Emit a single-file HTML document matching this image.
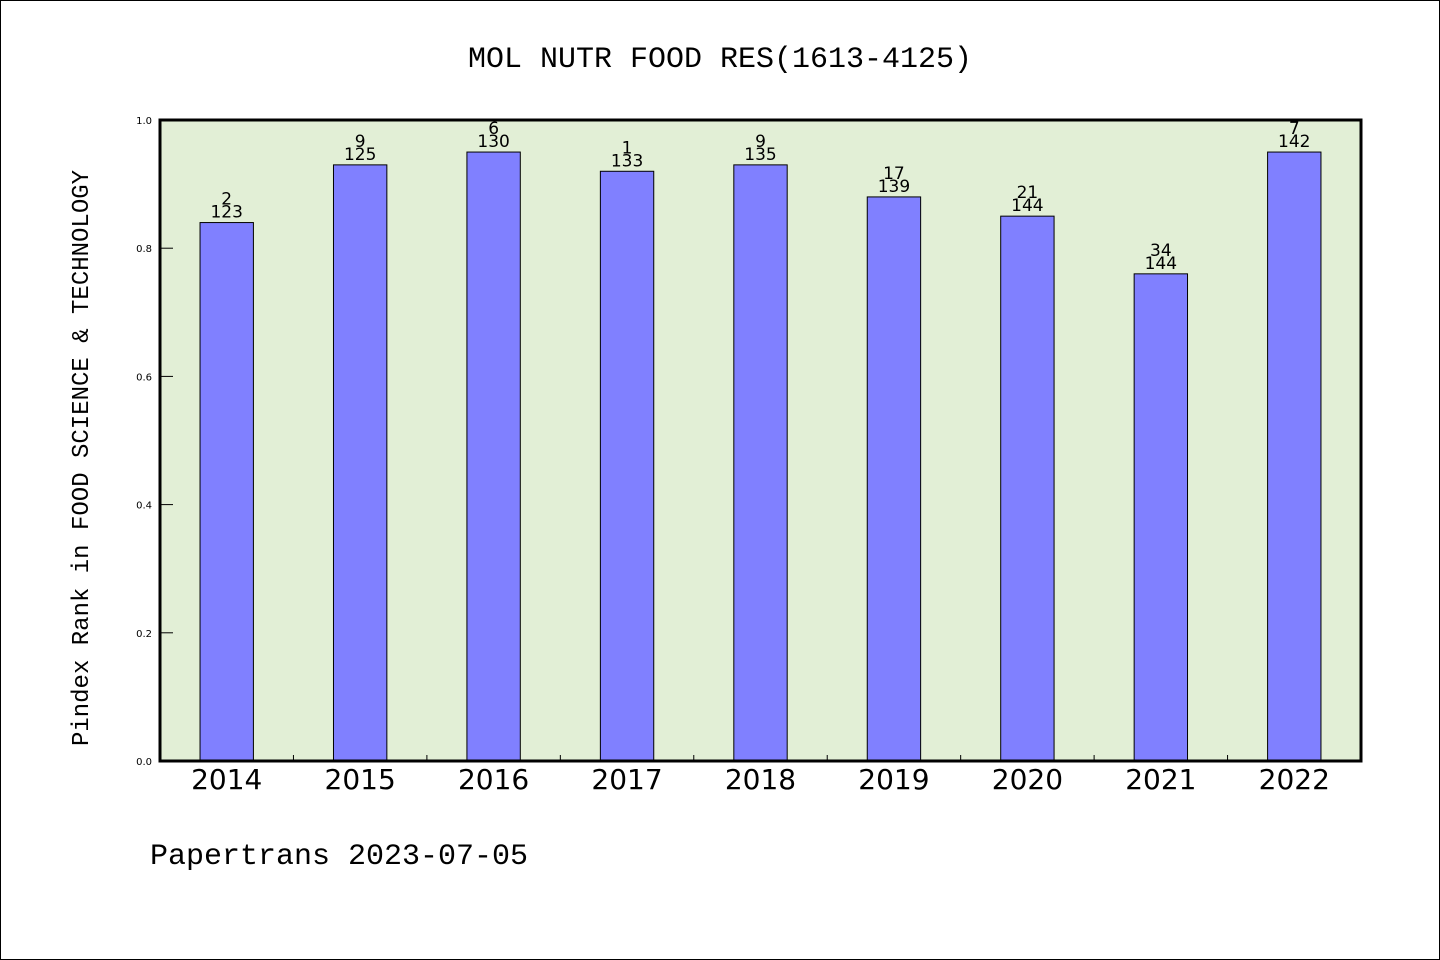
<!DOCTYPE html>
<html><head><meta charset="utf-8"><style>
html,body{margin:0;padding:0;background:#fff}
svg{display:block}
</style></head><body>
<svg width="1440" height="960" xmlns="http://www.w3.org/2000/svg">
<rect x="0.5" y="0.5" width="1439" height="959" fill="#fff" stroke="#000"/>
<text x="720" y="67" text-anchor="middle" font-family="Liberation Mono, monospace" font-size="30">MOL NUTR FOOD RES(1613-4125)</text>
<rect x="160" y="120" width="1201" height="641" fill="#e2efd6"/>
<g id="ticks"></g>
<g id="bars"></g>
<rect x="160" y="120" width="1201" height="641" fill="none" stroke="#000" stroke-width="3"/>
<text transform="translate(88,458) rotate(-90)" text-anchor="middle" font-family="Liberation Mono, monospace" font-size="24">Pindex Rank in FOOD SCIENCE &amp; TECHNOLOGY</text>
<text x="150" y="864" font-family="Liberation Mono, monospace" font-size="30">Papertrans 2023-07-05</text>
</svg>
<script>
const categories=["2014","2015","2016","2017","2018","2019","2020","2021","2022"];
const values=[0.84,0.93,0.95,0.92,0.93,0.88,0.85,0.76,0.95];
const ranks=["2","9","6","1","9","17","21","34","7"];
const totals=["123","125","130","133","135","139","144","144","142"];
const yTicks=[0,0.2,0.4,0.6,0.8,1.0];
const NS="http://www.w3.org/2000/svg";
const X0=160,W=1201,Y0=761,H=641;
const step=W/categories.length;
const xc=i=>X0+step*(i+0.5);
const y=v=>Y0-v*H;
function mk(t,a,p){const e=document.createElementNS(NS,t);for(const k in a)e.setAttribute(k,a[k]);p.appendChild(e);return e;}
const tg=document.getElementById('ticks'),bg=document.getElementById('bars');
yTicks.forEach(v=>{
 const l=mk('line',{x1:X0,x2:X0+13,y1:y(v),y2:y(v),stroke:'#000'},tg);
 
 
 const t=mk('text',{x:X0-8,y:y(v)+4,'text-anchor':'end','font-family':'DejaVu Sans, sans-serif','font-size':'10'},tg);
 t.textContent=v.toFixed(1);
 
 
});
for(let i=1;i<categories.length;i++){
 const l=mk('line',{x1:X0+step*i,x2:X0+step*i,y1:Y0,y2:Y0-6,stroke:'#000'},tg);
 
 
}
categories.forEach((c,i)=>{
 const bw=step*0.4;
 const r=mk('rect',{x:xc(i)-bw/2,y:y(values[i]),width:bw,height:values[i]*H,fill:'#8080ff',stroke:'#000','stroke-width':1},bg);
 
 
 const t1=mk('text',{x:xc(i),y:y(values[i])-18,'text-anchor':'middle','font-family':'DejaVu Sans, sans-serif','font-size':'17'},bg);
 t1.textContent=ranks[i];
 
 
 const t2=mk('text',{x:xc(i),y:y(values[i])-5,'text-anchor':'middle','font-family':'DejaVu Sans, sans-serif','font-size':'17'},bg);
 t2.textContent=totals[i];
 
 
 const xl=mk('text',{x:xc(i),y:Y0+28,'text-anchor':'middle','font-family':'DejaVu Sans, sans-serif','font-size':'28'},bg);
 xl.textContent=c;
 
 
});
</script>
</body></html>
